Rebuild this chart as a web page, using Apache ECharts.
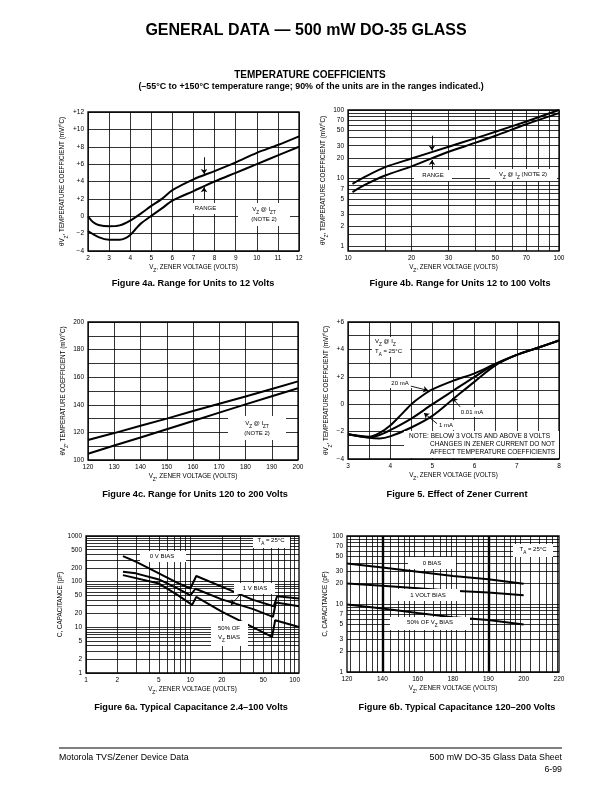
<!DOCTYPE html>
<html>
<head>
<meta charset="utf-8">
<script src="https://cdn.jsdelivr.net/npm/echarts@6.0.0/dist/echarts.min.js"></script>
<style>
html,body{margin:0;padding:0;background:#fff;}
#chart{width:612px;height:792px;}
</style>
</head>
<body>
<div id="chart"></div>
<script>
// ================= DATA =================
// Figure 4a — Vz (volts) vs temperature coefficient (mV/°C)
const fig4aUpper = [[2,0],[2.25,-0.7],[2.5,-1.0],[3,-1.15],[3.5,-1.05],[4,-0.5],[4.5,0.3],[5,1.2],[5.5,2.0],[6,3.0],[7,4.25],[8,5.2],[9,6.2],[10,7.3],[11,8.2],[12,9.2]];
const fig4aLower = [[2,-1.7],[2.5,-2.4],[3,-2.7],[3.5,-2.7],[3.75,-2.55],[4,-2.15],[4.25,-1.5],[4.5,-0.85],[5,0.05],[5.5,0.9],[6,1.8],[7,2.9],[8,4.0],[9,5.0],[10,6.0],[11,7.0],[12,8.0]];
const fig4aArrows = [[[7.5,6.8],[7.5,4.85]], [[7.5,1.9],[7.5,3.35]]];

// Figure 4b — log/log
const fig4bUpper = [[10.5,8.3],[12,10.5],[15,14.6],[20,19.5],[30,29],[40,38.5],[50,48],[70,68],[100,100]];
const fig4bLower = [[10.5,6.3],[12,8],[15,11],[20,15],[30,24.5],[40,33],[50,42],[70,62],[100,90]];
const fig4bArrows = [[[25,42],[25,25.5]], [[25,13.5],[25,18.6]]];
const fig4bXLabels = [10,20,30,50,70,100];
const fig4bYLabels = [1,2,3,5,7,10,20,30,50,70,100];

// Figure 4c
const fig4cUpper = [[120,114.5],[130,119.5],[140,124.8],[150,130],[160,135.5],[170,140.8],[180,146],[190,151.5],[200,157]];
const fig4cLower = [[120,104.5],[130,110.5],[140,116.3],[150,122.3],[160,128.3],[170,134.3],[180,140.3],[190,146.2],[200,152]];

// Figure 5 — effect of zener current
const fig5_20mA  = [[3,-2.2],[3.5,-2.38],[3.75,-2.1],[4,-1.55],[4.25,-0.8],[4.5,0],[4.75,0.6],[5,1.08],[5.5,1.72],[6,2.25],[6.5,2.95],[7,3.6],[7.5,4.12],[8,4.65]];
const fig5_1mA   = [[3,-2.2],[3.5,-2.42],[3.75,-2.25],[4,-1.9],[4.5,-1.05],[5,0],[5.5,1.0],[6,2.0],[6.5,2.95],[7,3.6],[7.5,4.12],[8,4.65]];
const fig5_001mA = [[3,-2.2],[3.5,-2.45],[3.75,-2.5],[4,-2.35],[4.5,-1.7],[5,-0.85],[5.5,0.4],[6,1.65],[6.5,2.85],[7,3.6],[7.5,4.12],[8,4.65]];
const fig5Arrows = [[[4.49,1.32],[4.9,1.0]], [[5.66,-0.2],[5.47,0.45]], [[5.11,-1.42],[4.8,-0.65]]];

// Figure 6a — capacitance (pF) vs Vz, log/log
const fig6a0V  = [[2.26,364],[3,275],[5,152],[7.45,95],[10,71],[11.4,133],[20,78],[40,40],[63,29],[67.8,48],[110,43]];
const fig6a1V  = [[2.26,165],[3,152],[5,112],[7.45,72],[10,50],[11.2,70],[20,41],[40,25],[62,17],[66,35],[110,29]];
const fig6a50  = [[2.26,139],[5,91],[7.45,52],[10.4,31],[11.4,46.5],[20,22],[40,10],[60.7,6.2],[65,14.3],[110,10.2]];
const fig6aArrows = [[[30,52],[24.5,31]]];
const fig6aXLabels = [1,2,5,10,20,50,100];
const fig6aYLabels = [1,2,5,10,20,50,100,200,500,1000];

// Figure 6b — capacitance vs Vz (axis as printed)
const fig6bCategories = ['120','140','160','180','190','200','220'];
const fig6b0Bias   = [39.5,34.4,29.8,25.8,23.2,19.8,null];
const fig6b1VBias  = [20,18.5,17.0,15.6,14.7,13.5,null];
const fig6b50Bias  = [9.8,8.6,7.4,6.4,5.8,5.0,null];
const fig6bYLabels = [1,2,3,5,7,10,20,30,50,70,100];

// ================= STYLE / BUILD =================
const BLACK = '#000';
const FONT = '"Liberation Sans", Arial, Helvetica, sans-serif';
const TICK_FS = 6.5;
const NAME_FS = 6.3;

function richSet(fs){
  return {
    n:{fontSize:fs, fontFamily:FONT, color:BLACK, fill:BLACK, lineHeight:fs*1.5, verticalAlign:'top'},
    s:{fontSize:fs*0.78, fontFamily:FONT, color:BLACK, fill:BLACK, lineHeight:fs*1.5, verticalAlign:'bottom'}
  };
}
const X_NAME = '{n|V}{s|Z}{n|, ZENER VOLTAGE (VOLTS)}';
const TC_NAME = '{n|\u03B8V}{s|Z}{n|, TEMPERATURE COEFFICIENT (mV/\u00B0C)}';
const CAP_NAME = '{n|C, CAPACITANCE (pF)}';

function logLines(lo, hi, extra){
  const out = [];
  for (let e = Math.floor(Math.log10(lo)); e <= Math.ceil(Math.log10(hi)); e++){
    for (let k = 1; k < 10; k++){
      const v = +(k*Math.pow(10,e)).toPrecision(6);
      if (v >= lo - 1e-9 && v <= hi + 1e-9) out.push(v);
    }
  }
  (extra||[]).forEach(v => out.push(v));
  return out.sort((a,b)=>a-b);
}

const splitLine = {show:true, lineStyle:{color:BLACK, width:0.8}};
const signed = v => v > 0 ? '+' + v : (v < 0 ? '\u2212' + (-v) : '0');

function baseAxis(gi, extra){
  return Object.assign({
    gridIndex: gi,
    axisLine:{show:false},
    axisTick:{show:false},
    axisLabel:{fontSize:TICK_FS, fontFamily:FONT, color:BLACK, margin:4},
    splitLine: splitLine,
    nameTextStyle:{rich: richSet(NAME_FS)},
    nameLocation:'middle'
  }, extra);
}
function xName(ax, gap){ ax.name = X_NAME; ax.nameGap = gap; return ax; }
function yName(ax, name, gap){ ax.name = name; ax.nameGap = gap; ax.nameRotate = 90; return ax; }

function valX(gi, min, max, interval, fmt){
  const a = baseAxis(gi, {type:'value', min, max, interval});
  a.axisLabel = Object.assign({}, a.axisLabel, {formatter: fmt || (v => String(v))});
  return a;
}
function valY(gi, min, max, interval, fmt){
  const a = baseAxis(gi, {type:'value', min, max, interval});
  a.axisLabel = Object.assign({}, a.axisLabel, {formatter: fmt || (v => String(v))});
  return a;
}
function logAx(gi, min, max, labels, lines){
  const a = baseAxis(gi, {type:'log', logBase:10, min, max});
  a.axisTick = {show:false, customValues: lines};
  a.axisLabel = Object.assign({}, a.axisLabel, {customValues: labels, formatter: v => String(+(+v).toPrecision(6))});
  return a;
}

const grids = [
  {left:88,  top:112, width:211, height:139},   // 4a
  {left:348, top:110, width:211, height:141},   // 4b
  {left:88,  top:322, width:210, height:138},   // 4c
  {left:348, top:322, width:211, height:137},   // 5
  {left:86,  top:536, width:213, height:137},   // 6a
  {left:347, top:536, width:212, height:136}    // 6b
].map(g => Object.assign({show:true, borderColor:BLACK, borderWidth:1.3, backgroundColor:'transparent', containLabel:false, outerBoundsMode:'none'}, g));

// 6b decorative log-paper grid, in position units of the printed axis
const paperCycle = [1,1.2,1.4,1.6,1.8,2,2.5,3,3.5,4,4.5,5,6,7,8,9];
const paperLines = [];
[-2,1,4].forEach(b => paperCycle.forEach(k => { const p = b + 3*Math.log10(k); if (p > 0.01 && p < 5.99) paperLines.push(+p.toFixed(4)); }));

const xAxes = [
  xName(valX(0, 2, 12, 1), 13),
  xName(logAx(1, 10, 100, fig4bXLabels, logLines(10,100,[15])), 13),
  xName(valX(2, 120, 200, 10), 13),
  xName(valX(3, 3, 8, 0.5, v => Number.isInteger(v) ? String(v) : ''), 13),
  xName(logAx(4, 1, 110, fig6aXLabels, logLines(1,110)), 13),
  xName(baseAxis(5, {type:'category', data: fig6bCategories, boundaryGap:false, splitLine:{show:false},
        axisLabel:{fontSize:TICK_FS, fontFamily:FONT, color:BLACK, margin:4, interval:0}}), 13),
  baseAxis(5, {type:'value', min:0, max:6, position:'bottom', axisLabel:{show:false},
        axisTick:{show:false, customValues: paperLines}, splitLine:{show:true, lineStyle:{color:BLACK, width:0.8}}}),
  baseAxis(5, {type:'value', min:0, max:6, position:'bottom', axisLabel:{show:false},
        axisTick:{show:false, customValues:[1,4]}, splitLine:{show:true, lineStyle:{color:BLACK, width:2.4}}})
];
const yAxes = [
  yName(valY(0, -4, 12, 2, signed), TC_NAME, 14.5),
  yName(logAx(1, 0.865, 100, fig4bYLabels, logLines(1,100,[1.5,15])), TC_NAME, 14.5),
  yName(valY(2, 100, 200, 10, v => v % 20 === 0 ? String(v) : ''), TC_NAME, 14.5),
  yName(valY(3, -4, 6, 1, v => v % 2 === 0 ? signed(v) : ''), TC_NAME, 14.5),
  yName(logAx(4, 1, 1000, fig6aYLabels, logLines(1,1000)), CAP_NAME, 10.5),
  yName(logAx(5, 1, 100, fig6bYLabels, logLines(1,100)), CAP_NAME, 12)
];

function curve(xi, yi, data, smooth){
  return {type:'line', xAxisIndex:xi, yAxisIndex:yi, data, showSymbol:false, symbol:'none',
          smooth: smooth, lineStyle:{color:BLACK, width:2}, itemStyle:{color:BLACK},
          silent:true, animation:false, z:5, connectNulls:false};
}
function arrows(xi, yi, list){
  return {type:'lines', coordinateSystem:'cartesian2d', xAxisIndex:xi, yAxisIndex:yi,
          symbol:['none','arrow'], symbolSize:5, polyline:false,
          lineStyle:{color:BLACK, width:0.9, opacity:1, curveness:0},
          data: list.map(c => ({coords:c})), silent:true, animation:false, z:120};
}

const series = [
  curve(0,0,fig4aUpper,0.3), curve(0,0,fig4aLower,0.3), arrows(0,0,fig4aArrows),
  curve(1,1,fig4bUpper,0.3), curve(1,1,fig4bLower,0.3), arrows(1,1,fig4bArrows),
  curve(2,2,fig4cUpper,false), curve(2,2,fig4cLower,false),
  curve(3,3,fig5_20mA,0.3), curve(3,3,fig5_1mA,0.3), curve(3,3,fig5_001mA,0.3), arrows(3,3,fig5Arrows),
  curve(4,4,fig6a0V,false), curve(4,4,fig6a1V,false), curve(4,4,fig6a50,false), arrows(4,4,fig6aArrows),
  curve(5,5,fig6b0Bias,false), curve(5,5,fig6b1VBias,false), curve(5,5,fig6b50Bias,false)
];

// ---------- texts & white label boxes ----------
const G = [];
function box(x,y,w,h){ G.push({type:'rect', shape:{x,y,width:w,height:h}, style:{fill:'#fff'}, z:90, silent:true}); }
function txt(x, y, text, fs, opt){
  opt = opt || {};
  const align = opt.align || 'center';
  const el = {type:'text', x, y, z:100, silent:true, style:{
    text, fill:BLACK, font:(opt.weight||'normal') + ' ' + fs + 'px ' + FONT,
    align, textAlign: align, verticalAlign:'middle', textVerticalAlign:'middle'}};
  if (opt.rich){
    el.style.rich = richSet(fs);
    el.style.verticalAlign = 'top'; el.style.textVerticalAlign = 'top';
    el.y = y - fs*0.6;
  }
  G.push(el);
}
// header
txt(306, 31, 'GENERAL DATA \u2014 500 mW DO-35 GLASS', 16, {weight:'bold'});
txt(310, 75, 'TEMPERATURE COEFFICIENTS', 10, {weight:'bold'});
txt(311, 86.5, '(\u201355\u00B0C to +150\u00B0C temperature range; 90% of the units are in the ranges indicated.)', 8.9, {weight:'bold'});
// captions
const CAP_FS = 9.2;
txt(193, 283, 'Figure 4a. Range for Units to 12 Volts', CAP_FS, {weight:'bold'});
txt(460, 283, 'Figure 4b. Range for Units 12 to 100 Volts', CAP_FS, {weight:'bold'});
txt(195, 494, 'Figure 4c. Range for Units 120 to 200 Volts', CAP_FS, {weight:'bold'});
txt(457, 494, 'Figure 5. Effect of Zener Current', CAP_FS, {weight:'bold'});
txt(191, 707, 'Figure 6a. Typical Capacitance 2.4\u2013100 Volts', CAP_FS, {weight:'bold'});
txt(457, 707, 'Figure 6b. Typical Capacitance 120\u2013200 Volts', CAP_FS, {weight:'bold'});
// footer
G.push({type:'line', shape:{x1:59, y1:748, x2:562, y2:748}, style:{stroke:BLACK, lineWidth:1}, z:100, silent:true});
txt(59, 758, 'Motorola TVS/Zener Device Data', 8.8, {align:'left'});
txt(562, 758, '500 mW DO-35 Glass Data Sheet', 8.8, {align:'right'});
txt(562, 770, '6-99', 8.8, {align:'right'});

const AF = 6;
// 4a
box(188,203,36,11); txt(205.5,208.5,'RANGE',AF);
box(238,203,52,23); txt(264,210,'{n|V}{s|Z}{n| @ I}{s|ZT}',AF,{rich:true}); txt(264,219.5,'(NOTE 2)',AF);
// 4b
box(414,170,38,11); txt(433,175.5,'RANGE',AF);
box(490,169,67,12); txt(523,174.5,'{n|V}{s|Z}{n| @ I}{s|Z}{n| (NOTE 2)}',AF,{rich:true});
// 4c
box(228,416,58,24); txt(257,424,'{n|V}{s|Z}{n| @ I}{s|ZT}',AF,{rich:true}); txt(257,433.5,'(NOTE 2)',AF);
// 5
box(372,337,38,20);
txt(375,342,'{n|V}{s|Z}{n| @ I}{s|Z}',AF,{rich:true,align:'left'});
txt(375,351.5,'{n|T}{s|A}{n| = 25\u00B0C}',AF,{rich:true,align:'left'});
box(387,378,27,10); txt(400,383,'20 mA',AF);
box(456,407,32,10); txt(472,412,'0.01 mA',AF);
box(434,420,24,10); txt(446,425,'1 mA',AF);
box(404,431,155,27);
const NF = 6.5;
txt(409,436.5,'NOTE: BELOW 3 VOLTS AND ABOVE 8 VOLTS',NF,{align:'left'});
txt(430,444.5,'CHANGES IN ZENER CURRENT DO NOT',NF,{align:'left'});
txt(430,452.5,'AFFECT TEMPERATURE COEFFICIENTS',NF,{align:'left'});
// 6a
box(253,537,37,11); txt(271,541,'{n|T}{s|A}{n| = 25\u00B0C}',AF,{rich:true});
box(140,551,46,11); txt(162,556.5,'0 V BIAS',AF);
box(234,583,41,11); txt(255,588.5,'1 V BIAS',AF);
box(211,621,37,25); txt(229,628,'50% OF',AF); txt(229,638,'{n|V}{s|Z}{n| BIAS}',AF,{rich:true});
// 6b
box(513,544,40,13); txt(533,550,'{n|T}{s|A}{n| = 25\u00B0C}',AF,{rich:true});
box(408,557,48,12); txt(432,563,'0 BIAS',AF);
box(396,589,64,12); txt(428,595,'1 VOLT BIAS',AF);
box(390,617,80,13); txt(430,623,'{n|50% OF V}{s|Z}{n| BIAS}',AF,{rich:true});

const chart = echarts.init(document.getElementById('chart'), null, {renderer:'canvas', width:612, height:792});
chart.setOption({
  animation:false,
  backgroundColor:'#fff',
  grid: grids,
  xAxis: xAxes,
  yAxis: yAxes,
  series: series,
  graphic: {elements: G}
});
</script>
</body>
</html>
